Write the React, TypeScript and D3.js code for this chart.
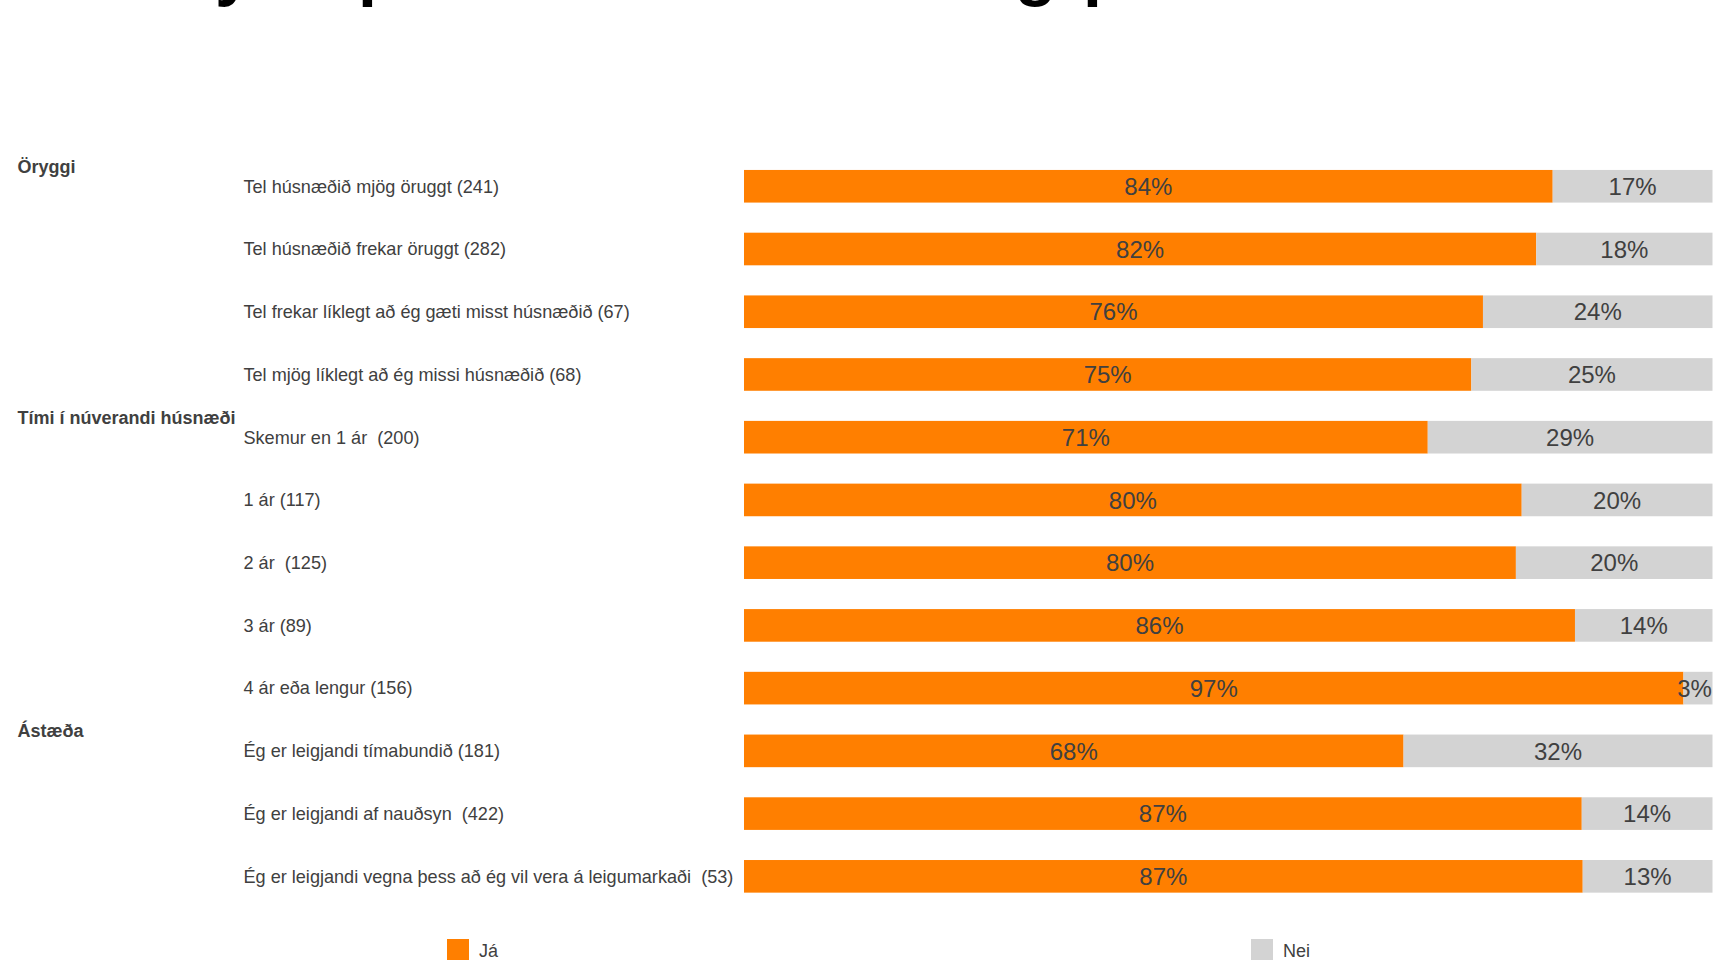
import React from "react";
import * as d3 from "d3";

const categories = [
  "Tel húsnæðið mjög öruggt (241)",
  "Tel húsnæðið frekar öruggt (282)",
  "Tel frekar líklegt að ég gæti misst húsnæðið (67)",
  "Tel mjög líklegt að ég missi húsnæðið (68)",
  "Skemur en 1 ár  (200)",
  "1 ár (117)",
  "2 ár  (125)",
  "3 ár (89)",
  "4 ár eða lengur (156)",
  "Ég er leigjandi tímabundið (181)",
  "Ég er leigjandi af nauðsyn  (422)",
  "Ég er leigjandi vegna þess að ég vil vera á leigumarkaði  (53)",
];

// share of "Já"
const yesShare = [83.5, 81.8, 76.3, 75.1, 70.6, 80.3, 79.7, 85.8, 97.0, 68.1, 86.5, 86.6];
// printed labels
const yesLabels = [84, 82, 76, 75, 71, 80, 80, 86, 97, 68, 87, 87];
const noLabels = [17, 18, 24, 25, 29, 20, 20, 14, 3, 32, 14, 13];

const groupNames = ["Öryggi", "Tími í núverandi húsnæði", "Ástæða"];
const groupStarts = [0, 4, 9];

const legendLabels = ["Já", "Nei"];
const titleFragments = ["y", "p", "g", "p"];

const W = 1713;
const H = 960;
const ORANGE = "#FF7F00";
const GREY = "#D3D3D3";
const TEXT = "#404040";
const FONT = "'Liberation Sans', Arial, sans-serif";

export default function App() {
  const x = d3.scaleLinear().domain([0, 100]).range([744, 1712.5]);
  const y = d3
    .scaleBand<string>()
    .domain(categories)
    .range([154.9, 907.7])
    .paddingInner(0.48)
    .paddingOuter(0.24);
  const bw = y.bandwidth();

  const titleX = [215, 358, 1015, 1083];
  const legendX = [447, 1251];
  const legendColors = [ORANGE, GREY];

  return (
    <svg
      width={W}
      height={H}
      style={{ position: "absolute", left: 0, top: 0, background: "#fff" }}
      fontFamily={FONT}
    >
      {titleFragments.map((t, i) => (
        <text key={"t" + i} x={titleX[i]} y={-7} fontSize={68} fontWeight="bold" fill="#000">
          {t}
        </text>
      ))}

      {groupNames.map((g, i) => {
        const c = categories[groupStarts[i]];
        return (
          <text
            key={g}
            x={17.5}
            y={(y(c) as number) + bw / 2 - 20}
            dy="0.35em"
            fontSize={18}
            fontWeight="bold"
            fill={TEXT}
          >
            {g}
          </text>
        );
      })}

      {categories.map((c, i) => {
        const y0 = y(c) as number;
        const cy = y0 + bw / 2;
        const xe = x(yesShare[i]);
        const xr = x(100);
        return (
          <g key={c}>
            <text
              x={243.5}
              y={cy}
              dy="0.35em"
              fontSize={18.1}
              fill={TEXT}
              style={{ whiteSpace: "pre" }}
            >
              {c}
            </text>
            <rect x={x(0)} y={y0} width={xe - x(0)} height={bw} fill={ORANGE} />
            <rect x={xe} y={y0} width={xr - xe} height={bw} fill={GREY} />
            <text
              x={(x(0) + xe) / 2}
              y={cy}
              dy="0.36em"
              fontSize={24}
              textAnchor="middle"
              fill={TEXT}
            >
              {yesLabels[i]}%
            </text>
            <text
              x={Math.min((xe + xr) / 2, xr - 18)}
              y={cy}
              dy="0.36em"
              fontSize={24}
              textAnchor="middle"
              fill={TEXT}
            >
              {noLabels[i]}%
            </text>
          </g>
        );
      })}

      {legendLabels.map((l, i) => (
        <g key={l}>
          <rect x={legendX[i]} y={939} width={22} height={22} fill={legendColors[i]} />
          <text x={legendX[i] + 32} y={956.5} fontSize={18} fill={TEXT}>
            {l}
          </text>
        </g>
      ))}
    </svg>
  );
}
